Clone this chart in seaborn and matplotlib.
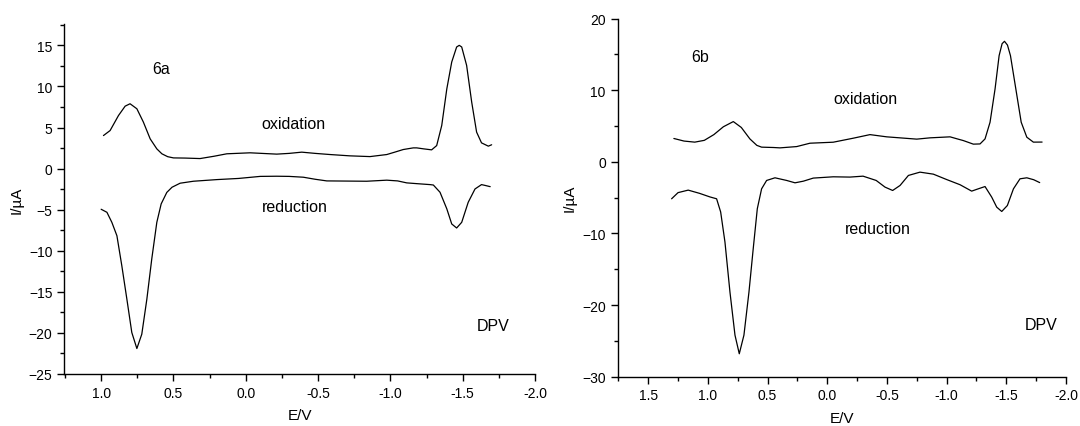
import matplotlib
matplotlib.use("agg")
import matplotlib.pyplot as plt
from matplotlib.ticker import MultipleLocator
import seaborn as sns

# panel 6a (E in V, I in uA)
e_ox_a = [0.984, 0.938, 0.88, 0.834, 0.80, 0.753, 0.708, 0.661, 0.615, 0.58, 0.54, 0.50,
          0.42, 0.316, 0.22, 0.131, -0.03, -0.214, -0.30, -0.387, -0.48, -0.583, -0.72,
          -0.859, -0.975, -1.03, -1.089, -1.158, -1.182, -1.23, -1.285, -1.32, -1.355,
          -1.39, -1.424, -1.458, -1.476, -1.493, -1.527, -1.562, -1.596, -1.63, -1.677, -1.70]
i_ox_a = [4.02, 4.63, 6.46, 7.6, 7.89, 7.28, 5.66, 3.62, 2.4, 1.8, 1.45, 1.3,
          1.28, 1.22, 1.5, 1.8, 1.92, 1.76, 1.85, 2.0, 1.85, 1.71, 1.55,
          1.46, 1.71, 2.0, 2.32, 2.52, 2.52, 2.4, 2.28, 2.8, 5.25,
          9.7, 12.97, 14.8, 15.0, 14.8, 12.56, 8.1, 4.44, 3.13, 2.73, 2.9]
e_red_a = [1.0, 0.96, 0.926, 0.891, 0.857, 0.822, 0.788, 0.753, 0.719, 0.684, 0.65, 0.615,
           0.585, 0.546, 0.51, 0.454, 0.362, 0.2, 0.05, -0.1, -0.214, -0.30, -0.398, -0.48,
           -0.56, -0.70, -0.836, -0.975, -1.05, -1.113, -1.18, -1.274, -1.297, -1.343, -1.39,
           -1.424, -1.458, -1.493, -1.538, -1.585, -1.63, -1.655, -1.69]
i_red_a = [-4.95, -5.32, -6.54, -8.17, -11.83, -15.9, -19.95, -21.9, -20.16, -15.9, -11.0, -6.54,
           -4.3, -2.9, -2.27, -1.78, -1.54, -1.34, -1.2, -0.95, -0.93, -0.95, -1.05, -1.3,
           -1.5, -1.52, -1.54, -1.41, -1.5, -1.74, -1.83, -1.95, -2.0, -2.88, -4.9,
           -6.74, -7.23, -6.54, -4.1, -2.48, -1.95, -2.05, -2.2]

# panel 6b
e_ox_b = [1.285, 1.2, 1.11, 1.03, 0.95, 0.87, 0.787, 0.72, 0.648, 0.59, 0.55, 0.45, 0.396,
          0.256, 0.145, -0.05, -0.218, -0.358, -0.498, -0.75, -0.861, -1.029, -1.09, -1.14,
          -1.224, -1.28, -1.322, -1.364, -1.406, -1.44, -1.465, -1.485, -1.51, -1.535,
          -1.58, -1.625, -1.672, -1.727, -1.80]
i_ox_b = [3.26, 2.9, 2.75, 3.0, 3.8, 4.9, 5.62, 4.8, 3.2, 2.3, 2.05, 2.0, 1.95,
          2.13, 2.6, 2.74, 3.3, 3.8, 3.49, 3.17, 3.35, 3.49, 3.2, 2.97,
          2.47, 2.5, 3.2, 5.53, 10.18, 14.83, 16.5, 16.83, 16.3, 14.83,
          10.18, 5.53, 3.44, 2.75, 2.76]
e_red_b = [1.304, 1.25, 1.165, 1.07, 0.983, 0.927, 0.893, 0.857, 0.815, 0.773, 0.737, 0.698,
           0.656, 0.62, 0.586, 0.55, 0.508, 0.438, 0.34, 0.27, 0.2, 0.117, -0.05, -0.19,
           -0.30, -0.41, -0.484, -0.548, -0.61, -0.68, -0.777, -0.889, -1.0, -1.113, -1.21,
           -1.265, -1.322, -1.378, -1.42, -1.462, -1.509, -1.56, -1.615, -1.672, -1.73, -1.78]
i_red_b = [-5.16, -4.3, -3.95, -4.4, -4.9, -5.16, -7.0, -11.2, -18.2, -24.2, -26.8, -24.2,
           -18.2, -12.1, -6.55, -3.77, -2.6, -2.23, -2.6, -2.93, -2.7, -2.27, -2.09, -2.13,
           -2.0, -2.6, -3.53, -4.0, -3.3, -1.9, -1.44, -1.72, -2.47, -3.2, -4.09,
           -3.77, -3.45, -4.93, -6.33, -6.93, -6.1, -3.77, -2.37, -2.23, -2.5, -2.9]

sns.set_style("ticks")
plt.rcParams["font.family"] = ["Liberation Sans", "DejaVu Sans"]
plt.rcParams["axes.linewidth"] = 1.0
for key in ["text.color", "axes.labelcolor", "xtick.color", "ytick.color", "axes.edgecolor"]:
    plt.rcParams[key] = "black"

fig = plt.figure(figsize=(10.8, 4.27), dpi=100)
ax_a = fig.add_axes([0.0595, 0.1218, 0.4359, 0.8197])
ax_b = fig.add_axes([0.5719, 0.1155, 0.4151, 0.8386])

panels = [
    (ax_a, e_ox_a, i_ox_a, e_red_a, i_red_a, (1.255, -2.0), (-25, 17.6), 5, 2.5,
     "6a", (0.586, 12.15), (-0.33, 5.45), (-0.34, -4.6), (-1.71, -19.1)),
    (ax_b, e_ox_b, i_ox_b, e_red_b, i_red_b, (1.756, -2.0), (-30, 20), 10, 5,
     "6b", (1.064, 14.75), (-0.316, 8.8), (-0.42, -9.3), (-1.79, -22.7)),
]

for (ax, e_ox, i_ox, e_red, i_red, xl, yl, ymaj, ymin, tag,
     tag_xy, ox_xy, red_xy, dpv_xy) in panels:
    sns.lineplot(x=e_ox, y=i_ox, ax=ax, sort=False, estimator=None, color="black", lw=0.9)
    sns.lineplot(x=e_red, y=i_red, ax=ax, sort=False, estimator=None, color="black", lw=0.9)
    ax.set_xlim(*xl)
    ax.set_ylim(*yl)
    ax.xaxis.set_major_locator(MultipleLocator(0.5))
    ax.xaxis.set_minor_locator(MultipleLocator(0.25))
    ax.yaxis.set_major_locator(MultipleLocator(ymaj))
    ax.yaxis.set_minor_locator(MultipleLocator(ymin))
    ax.xaxis.set_major_formatter(lambda v, p: f"{v:.1f}")
    ax.tick_params(which="major", length=5, width=1, labelsize=10, direction="out")
    ax.tick_params(which="minor", length=3, width=1, direction="out")
    sns.despine(ax=ax)
    ax.spines["bottom"].set_bounds(xl[0], -2.0)
    ax.set_xlabel("E/V", fontsize=11, labelpad=6)
    ax.set_ylabel("I/\u00b5A", fontsize=11, labelpad=4)
    ax.text(*tag_xy, tag, fontsize=11.5, ha="center", va="center")
    ax.text(*ox_xy, "oxidation", fontsize=11.5, ha="center", va="center")
    ax.text(*red_xy, "reduction", fontsize=11.5, ha="center", va="center")
    ax.text(*dpv_xy, "DPV", fontsize=11.5, ha="center", va="center")

fig.savefig("out.png", dpi=100)
